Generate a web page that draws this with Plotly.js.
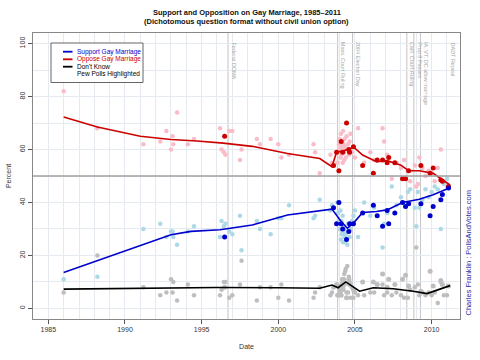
<!DOCTYPE html>
<html><head><meta charset="utf-8">
<script src="https://cdn.plot.ly/plotly-3.0.1.min.js"></script>
<style>html,body{margin:0;padding:0;background:#fff}#chart{width:480px;height:360px}</style>
</head><body><div id="chart"></div>
<script>
// ---- Data ----
const pollDates   = [1986.0,1988.2,1991.2,1992.3,1992.7,1993.0,1993.1,1993.15,1993.4,1994.1,1994.5,1996.2,1996.3,1996.45,1996.55,1996.8,1997.0,1997.5,1997.6,1998.6,1998.8,1999.5,2000.0,2000.2,2000.7,2002.3,2002.4,2002.7,2003.4,2003.5,
  2003.85,2003.9,2003.95,2004.0,2004.02,2004.05,2004.08,2004.1,2004.12,2004.15,2004.18,2004.2,2004.22,2004.25,2004.28,2004.3,2004.33,2004.36,2004.4,2004.45,2004.5,2004.55,2004.6,2004.65,2004.7,2004.8,2004.9,2005.0,
  2005.2,2005.6,2006.0,2006.25,2006.8,2006.9,2007.1,2007.4,2007.7,2008.0,2008.2,2008.45,2008.6,2008.9,2009.0,2009.1,2009.2,2009.4,2009.6,2009.8,2010.0,2010.2,2010.4,2010.6,2010.8,2011.0];
const pollOppose  = [82,68,62,63,67,60,65,62,74,62,64,68,60,59,58,67,67,56,60,64,62,64,62,57,58,62,59,51,58,55,
  55,59,62,64,60,57,66,61,58,63,60,55,67,62,59,56,64,61,57,65,60,62,58,63,66,59,61,57,
  68,55,59,56,68,63,58,49,55,53,56,52,48,54,46,47,57,53,50,52,51,48,53,60,48,46];
const pollSupport = [11,12,30,32,27,29,29,27,24,29,31,27,33,31,32,29,28,35,22,33,30,28,34,34,39,34,35,41,37,39,
  40,36,33,30,33,37,26,32,33,28,29,35,25,31,30,31,27,25,28,29,24,32,30,27,30,33,35,37,
  27,40,35,38,23,32,36,46,39,42,40,44,45,38,31,44,38,41,45,42,44,46,45,30,47,49];
const pollDK      = [6,20,8,5,6,11,6,10,3,9,5,5,7,10,10,4,5,9,18,3,8,8,4,9,3,4,6,8,5,6,
  5,5,5,6,7,6,8,7,9,9,11,10,8,7,11,13,9,14,15,6,16,6,12,10,4,8,4,6,
  5,5,6,6,9,5,6,5,6,5,4,4,7,8,23,9,5,6,5,6,5,6,2,10,5,5];

const pewDates    = [1996.5,2003.6,2003.8,2003.95,2004.1,2004.2,2004.45,2004.6,2004.65,2004.9,2005.5,2006.2,2006.45,2006.8,2007.1,2007.2,2007.6,2008.1,2008.3,2008.5,2009.3,2009.9,2010.1,2010.6,2010.7,2011.1];
const pewOppose   = [65,54,59,52,63,59,70,60,59,61,54,51,56,56,55,57,55,49,49,52,54,51,53,48.5,48,46];
const pewSupport  = [27,38,32,40,32,30,26,29,32,32,36,39,35,31,37,32,36,40,38.5,39.5,39.5,35,38.5,41,43,45.5];
const pewDK       = [8,8,9,8,5,11,4,11,9,7,10,10,9,13,8,11,9,11,12.5,8.5,6.5,14,8.5,10.5,9,8.5];

// Smoothed trend lines
const trendOpposeX = [1986.0,1988.2,1991.0,1993.0,1994.7,1996.4,1998.3,2000.6,2002.7,2003.5,2003.8,2004.2,2004.7,2004.9,2005.5,2006.4,2007.1,2007.6,2008.0,2008.5,2009.2,2010.1,2010.6,2011.2];
const trendOpposeY = [72.3,68.5,65.0,63.8,63.2,62.4,61.2,58.5,56.6,53.5,59.1,59.4,60.4,61.0,57.9,55.4,55.8,54.8,54.1,52.0,52.0,51.0,49.1,46.6];
const trendSupportX = [1986.0,1993.0,1994.3,1996.2,1998.3,2000.6,2003.5,2004.1,2004.5,2004.9,2005.5,2006.4,2007.1,2007.6,2008.1,2009.2,2010.1,2011.2];
const trendSupportY = [13.6,27.8,29.1,29.7,31.5,35.3,37.5,32.8,30.3,32.2,36.2,36.6,37.2,38.5,40.0,41.2,42.9,45.6];
const trendDKX = [1986.0,1992.0,1996.0,2000.0,2002.7,2003.5,2003.9,2004.4,2005.3,2006.2,2007.5,2008.8,2009.7,2011.2];
const trendDKY = [7.3,7.6,7.9,7.8,7.6,8.8,7.8,10.0,6.5,7.8,7.4,6.5,5.6,8.6];

// Events
const eventDates  = [1996.72,2003.87,2004.84,2008.38,2008.84,2009.27,2010.97];
const eventLabels = ["Federal DOMA","Mass. Court Ruling","2004 Election Day","Calif. Court Ruling","Prop 8 Passes","IA, VT, DC allow marriage","DADT Repeal"];

const xTicks = [1985,1990,1995,2000,2005,2010];
const yTicks = [0,20,40,60,80,100];

const titleLines = ["Support and Opposition on Gay Marriage, 1985–2011","(Dichotomous question format without civil union option)"];
const legendLabels = ["Support Gay Marriage","Oppose Gay Marriage","Don't Know","Pew Polls Highlighted"];
const legendColors = ["#0000CD","#CD0000","#000000",null];
const legendTextColors = ["#0000CD","#CD0000","#000000","#000000"];

// ---- Layout helpers (pixel -> paper) ----
const M = {l:33, r:20, t:33, b:41};
const PW = 480 - M.l - M.r, PH = 360 - M.t - M.b;
const px = v => (v - M.l) / PW;
const py = v => (360 - M.b - v) / PH;
const FAM = 'Liberation Sans, Arial, sans-serif';

const light = {size:4.5, line:{width:0}};
const traces = [
  {x:pollDates, y:pollOppose, mode:'markers', marker:Object.assign({color:'#F9BCC8'},light), showlegend:false, hoverinfo:'skip'},
  {x:pollDates, y:pollSupport, mode:'markers', marker:Object.assign({color:'#ADD8E6'},light), showlegend:false, hoverinfo:'skip'},
  {x:pollDates, y:pollDK, mode:'markers', marker:Object.assign({color:'#BEBEBE'},light), showlegend:false, hoverinfo:'skip'},
  {x:pewDates, y:pewDK, mode:'markers', marker:{color:'#BEBEBE', size:5}, showlegend:false},
  {x:trendOpposeX, y:trendOpposeY, mode:'lines', line:{color:'#CD0000', width:1.6}, showlegend:false},
  {x:trendSupportX, y:trendSupportY, mode:'lines', line:{color:'#0000CD', width:1.6}, showlegend:false},
  {x:trendDKX, y:trendDKY, mode:'lines', line:{color:'#000000', width:1.6}, showlegend:false},
  {x:pewDates, y:pewOppose, mode:'markers', marker:{color:'#CD0000', size:5}, showlegend:false},
  {x:pewDates, y:pewSupport, mode:'markers', marker:{color:'#0000CD', size:5}, showlegend:false}
];

const shapes = [];
const annotations = [];
// title lines
titleLines.forEach((t,i) => {
  annotations.push({xref:'paper', yref:'paper', x:0.5, y:py(12.5 + i*9), text:'<b>'+t+'</b>', showarrow:false,
    xanchor:'center', yanchor:'middle', font:{family:FAM, size:7.5, color:'#111'}});
});
// event lines
eventDates.forEach((d,i) => {
  shapes.push({type:'line', xref:'x', yref:'paper', x0:d, x1:d, y0:0, y1:1, line:{color:'#C4C4C4', width:1}, layer:'below'});
  annotations.push({x:d, xref:'x', y:py(40), yref:'paper', text:eventLabels[i], showarrow:false, textangle:90,
    xanchor:'left', yanchor:'top', xshift:1, font:{family:FAM, size:5.5, color:'#A8A8A8'}});
});
// 50% reference line
shapes.push({type:'line', xref:'paper', yref:'y', x0:0, x1:1, y0:50, y1:50, line:{color:'#A0A0A0', width:1.5}});

// manual legend
shapes.push({type:'rect', xref:'paper', yref:'paper', x0:px(51), x1:px(143), y0:py(43), y1:py(82.5), line:{color:'#666', width:1}, fillcolor:'#fff'});
const rowY = [51.7, 59.3, 66.7, 74.2];
legendLabels.forEach((lab,i) => {
  if (legendColors[i]) shapes.push({type:'line', xref:'paper', yref:'paper', x0:px(63), x1:px(72.5), y0:py(rowY[i]), y1:py(rowY[i]), line:{color:legendColors[i], width:1.8}});
  annotations.push({xref:'paper', yref:'paper', x:px(75), y:py(rowY[i]), text:lab, showarrow:false, xanchor:'left', yanchor:'middle',
    font:{family:FAM, size:6.5, color:legendTextColors[i]}});
});
// side credit
annotations.push({xref:'paper', yref:'paper', x:px(468), y:py(318), text:'Charles Franklin : PollsAndVotes.com', showarrow:false,
  textangle:-90, xanchor:'center', yanchor:'bottom', font:{family:FAM, size:7.5, color:'#2B2BA8'}});

const layout = {
  width:480, height:360, margin:M,
  paper_bgcolor:'#fff', plot_bgcolor:'#fff',
  font:{family:FAM, size:7, color:'#333'},
  xaxis:{range:[1984.0,2011.85], tickvals:xTicks, ticktext:xTicks.map(String), ticks:'outside', ticklen:4, tickcolor:'#555',
    showline:true, mirror:true, linecolor:'#888', linewidth:1, zeroline:false,
    showgrid:true, gridcolor:'#E4EAF0', gridwidth:1,
    minor:{dtick:1, tick0:1985, showgrid:true, gridcolor:'#E4EAF0', gridwidth:1, ticks:''},
    tickfont:{size:7, color:'#333'}, title:{text:'Date', font:{size:7, color:'#333'}, standoff:11}},
  yaxis:{range:[-4,104], tickvals:yTicks, ticktext:yTicks.map(String), ticks:'outside', ticklen:4, tickcolor:'#555', tickangle:-90,
    showline:true, mirror:true, linecolor:'#888', linewidth:1, zeroline:false,
    showgrid:true, gridcolor:'#E4EAF0', gridwidth:1,
    minor:{dtick:10, tick0:0, showgrid:true, gridcolor:'#E4EAF0', gridwidth:1, ticks:''},
    tickfont:{size:7, color:'#333'}, title:{text:'Percent', font:{size:7, color:'#333'}, standoff:6}},
  shapes:shapes, annotations:annotations, showlegend:false
};
Plotly.newPlot('chart', traces, layout, {staticPlot:true, displayModeBar:false});
</script></body></html>
